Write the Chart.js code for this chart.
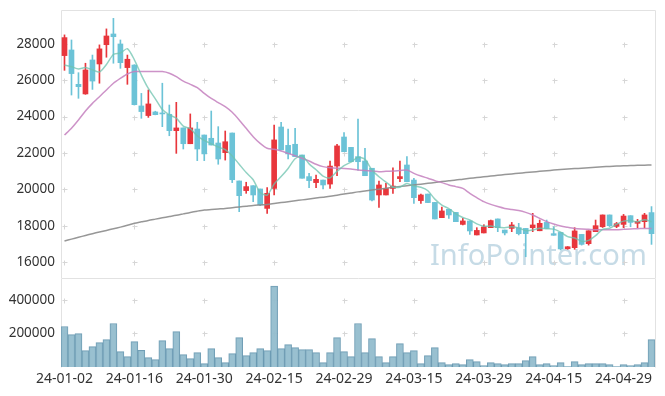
<!DOCTYPE html>
<html><head><meta charset="utf-8">
<script src="https://cdn.jsdelivr.net/npm/chart.js@4/dist/chart.umd.min.js"></script>
<style>
html,body{margin:0;padding:0;background:#fff;}
#wrap{position:relative;width:665px;height:396px;overflow:hidden;}
#c1{position:absolute;left:0;top:0;}
#c2{position:absolute;left:0;top:278px;}
</style></head><body>
<div id="wrap">
<canvas id="c1" width="665" height="278"></canvas>
<canvas id="c2" width="665" height="118"></canvas>
</div>
<script>
const labels = ["24-01-02","24-01-03","24-01-04","24-01-05","24-01-08","24-01-09","24-01-10","24-01-11","24-01-12","24-01-15",
"24-01-16","24-01-17","24-01-18","24-01-19","24-01-22","24-01-23","24-01-24","24-01-25","24-01-26","24-01-29",
"24-01-30","24-01-31","24-02-01","24-02-02","24-02-05","24-02-06","24-02-07","24-02-08","24-02-13","24-02-14",
"24-02-15","24-02-16","24-02-19","24-02-20","24-02-21","24-02-22","24-02-23","24-02-26","24-02-27","24-02-28",
"24-02-29","24-03-04","24-03-05","24-03-06","24-03-07","24-03-08","24-03-11","24-03-12","24-03-13","24-03-14",
"24-03-15","24-03-18","24-03-19","24-03-20","24-03-21","24-03-22","24-03-25","24-03-26","24-03-27","24-03-28",
"24-03-29","24-04-01","24-04-02","24-04-03","24-04-04","24-04-05","24-04-08","24-04-09","24-04-11","24-04-12",
"24-04-15","24-04-16","24-04-17","24-04-18","24-04-19","24-04-22","24-04-23","24-04-24","24-04-25","24-04-26",
"24-04-29","24-04-30","24-05-02","24-05-03","24-05-07"];

const openP = [27360,27670,25780,25250,27120,26900,27960,28550,28000,26700,
26840,24590,24060,24260,24200,24130,23230,23380,22510,23320,
22990,22810,22550,22020,23100,20460,19930,20200,20020,18950,
20050,23430,22420,22480,21890,20700,20370,20510,20290,21280,
22880,22310,21800,21560,21160,19690,19690,20050,20590,21340,
20510,19380,19740,19280,18440,18900,18730,18070,18260,17490,
17600,17890,18370,17760,17850,17890,17850,17890,17720,18180,
17560,17630,16730,16790,17520,17010,17670,17940,18590,17960,
18070,18550,18130,18220,18720];
const closeP = [28350,26370,25650,26570,25960,27730,28440,28400,26970,27160,
24660,24280,24700,24110,24150,23230,23380,22510,23380,22220,
21950,22440,21670,22620,20530,19650,20150,19690,19140,19780,
22720,22170,21950,21800,20610,20480,20550,20240,21280,22390,
22070,21520,21520,20750,19410,20240,20050,20180,20700,20420,
19540,19690,19270,18370,18810,18590,18220,18260,17710,17740,
17930,18280,17890,17600,18040,17560,17560,18040,18130,17850,
17470,16720,16840,17710,16970,17720,18000,18590,18000,18110,
18530,18180,18240,18590,17560];
const highP = [28500,28220,26420,26940,27390,27950,28830,29410,28220,27390,
26860,25280,25470,24300,25840,24640,24790,23380,24150,23690,
22990,24310,23450,23210,23100,20460,20390,20200,20020,20090,
23540,23690,23320,23360,21890,20880,20790,20510,21560,22480,
23120,22310,23870,22260,21160,20460,20330,21190,21560,21800,
20610,19740,19740,19280,19030,18900,18730,18400,18260,17890,
18050,18310,18370,17760,18180,18130,17850,18680,18310,18310,
17940,17630,16850,17890,17520,17720,18310,18590,18590,18180,
18620,18550,18350,18680,19050];
const lowP = [26550,25190,25010,25230,25500,25840,27270,26940,26660,25780,
24640,23910,23960,24100,23450,22950,21980,22220,22510,21580,
21580,22440,21380,21610,20370,18770,19780,19320,19100,18680,
19690,22170,21670,21800,20610,20090,20090,20020,20050,20750,
22070,21520,21060,20750,19360,19010,19690,19780,20420,20420,
19230,19230,19270,18370,18440,18400,18220,18040,17520,17490,
17600,17890,17670,17490,17670,17490,16290,17670,17720,17850,
17470,16660,16700,16700,16930,16930,17670,17900,17950,17890,
17890,17940,17890,17890,16970];

const ma5 = [26840,26750,26620,26700,26580,26455,26870,27420,27500,27740,
27130,26290,25550,24980,24390,24100,23920,23480,23340,22940,
22690,22500,22330,22180,21840,21380,20920,20530,19830,19680,
20290,20700,21150,21680,21850,21400,21080,20730,20630,20990,
21310,21500,21760,21650,21060,20690,20400,20130,20120,20320,
20180,20110,19920,19460,19130,18940,18650,18450,18320,18100,
17970,17980,17910,17890,17940,17870,17730,17760,17860,17830,
17810,17640,17400,17320,17140,17190,17450,17800,17860,18080,
18250,18280,18210,18330,18220];
const ma20 = [22990,23360,23820,24310,24730,25100,25470,25840,26110,26350,
26480,26480,26480,26480,26480,26390,26200,25960,25780,25600,
25280,25000,24770,24550,24240,23820,23360,22900,22530,22260,
22200,22110,21980,21850,21710,21560,21380,21250,21190,21160,
21150,21120,21060,21030,21010,20970,20990,21010,21030,21060,
20880,20730,20610,20480,20370,20240,20150,20050,19780,19540,
19320,19170,19050,18950,18890,18830,18730,18590,18400,18220,
18090,17980,17910,17850,17820,17800,17780,17780,17780,17780,
17800,17820,17830,17850,17850];
const ma60 = [17155,17260,17360,17460,17560,17650,17740,17830,17920,18020,
18130,18210,18290,18360,18430,18500,18570,18650,18730,18800,
18860,18890,18920,18950,18990,19030,19070,19110,19140,19170,
19220,19270,19320,19370,19420,19470,19520,19570,19620,19680,
19740,19800,19860,19910,19960,20010,20060,20110,20160,20200,
20240,20285,20330,20380,20425,20470,20510,20560,20605,20650,
20690,20730,20770,20810,20850,20885,20920,20955,20990,21025,
21060,21090,21115,21140,21165,21190,21215,21240,21260,21280,
21295,21310,21320,21330,21340];

const volume = [241000,193000,199000,97500,121000,145000,163000,259000,91500,61700,
151000,99500,55700,43800,157000,109000,211000,73600,49800,85600,
19900,109000,55700,25900,79600,175000,67700,85600,109000,97500,
482000,109000,133000,115000,103000,103000,85600,25900,85600,175000,
91500,61700,259000,85600,169000,61700,25900,61700,139000,85600,
97500,19900,67700,115000,25900,13900,19900,13900,43800,31800,
8000,25900,19900,13900,19900,19900,37800,61700,13900,19900,
8000,25900,2000,31800,13900,19900,19900,19900,13900,2000,
13900,8000,13900,25900,163000];

const priceTicks = [16000,18000,20000,22000,24000,26000,28000];
const volTicks = [200000,400000];

const UP = '#e8363c', DOWN = '#6cc3d7';
const candleColors = openP.map((o, i) => closeP[i] >= o ? UP : DOWN);
const FAMILY = '"Noto Sans", "DejaVu Sans", sans-serif';

const framePlugin = {
  id: 'frame',
  beforeDatasetsDraw(chart, args, opts) {
    const {ctx, chartArea: a, scales} = chart;
    ctx.save();
    if (opts.mark) {
      ctx.font = '31px "Noto Sans", sans-serif';
      const w = ctx.measureText(opts.mark).width;
      const size = 31 * 217 / w;
      ctx.font = size.toFixed(2) + 'px "Noto Sans", sans-serif';
      ctx.fillStyle = 'rgba(160,195,214,0.6)';
      ctx.textBaseline = 'alphabetic';
      ctx.textAlign = 'left';
      ctx.fillText(opts.mark, 430, 265);
    }
    ctx.strokeStyle = '#d6d6d6';
    ctx.lineWidth = 1;
    ctx.beginPath();
    const xs = scales.x, ys = scales.y;
    for (let i = 0; i < labels.length; i += 10) {
      const px = Math.round(xs.getPixelForValue(i)) + 0.5;
      for (const t of ys.ticks) {
        const py = Math.round(ys.getPixelForValue(t.value)) + 0.5;
        ctx.moveTo(px - 2, py); ctx.lineTo(px + 3, py);
        ctx.moveTo(px, py - 2); ctx.lineTo(px, py + 3);
      }
    }
    ctx.stroke();
    ctx.strokeStyle = '#e2e2e2';
    const l = Math.round(a.left) + 0.5, r = Math.round(a.right) + 0.5,
          t = Math.round(a.top) + 0.5, b = Math.round(a.bottom) + 0.5;
    ctx.beginPath();
    ctx.moveTo(l, b); ctx.lineTo(l, t); ctx.lineTo(r, t); ctx.lineTo(r, b);
    ctx.stroke();
    ctx.restore();
  }
};

function yAxis(min, max, keep) {
  return {
    position: 'left', min, max,
    afterBuildTicks(s) { s.ticks = keep.map(v => ({value: v})); },
    ticks: {color: '#333', font: {family: FAMILY, size: 13.5}, padding: 6, autoSkip: false,
      callback(v) { return String(v); }},
    afterFit(s) { s.width = 61; s.paddingTop = 0; s.paddingBottom = 0; },
    grid: {display: false, drawTicks: false},
    border: {display: false}
  };
}

const lineDs = (data, color) => ({
  type: 'line', data, borderColor: color, borderWidth: 1.5,
  pointRadius: 0, tension: 0.25, fill: false, order: 0
});

new Chart(document.getElementById('c1'), {
  type: 'bar',
  data: {
    labels,
    datasets: [
      lineDs(ma5, 'rgba(110,195,175,0.75)'),
      lineDs(ma20, 'rgba(196,128,190,0.85)'),
      lineDs(ma60, 'rgba(140,140,140,0.9)'),
      {data: openP.map((o, i) => [o, closeP[i]]), backgroundColor: candleColors,
       barThickness: 5, minBarLength: 1, grouped: false, order: 1},
      {data: lowP.map((l, i) => [l, highP[i]]), backgroundColor: candleColors,
       barThickness: 1, grouped: false, order: 2}
    ]
  },
  options: {
    responsive: false, animation: false, events: [],
    layout: {padding: {left: 0, right: 10, top: 10, bottom: 0}},
    plugins: {legend: {display: false}, tooltip: {enabled: false}, frame: {mark: 'InfoPointer.com'}},
    scales: {
      x: {type: 'category', offset: true, display: false},
      y: yAxis(15120, 29870, priceTicks)
    }
  },
  plugins: [framePlugin]
});

new Chart(document.getElementById('c2'), {
  type: 'bar',
  data: {
    labels,
    datasets: [{
      data: volume, backgroundColor: 'rgba(148,189,206,0.95)', borderColor: 'rgba(98,148,173,0.9)',
      borderWidth: 1, barPercentage: 1, categoryPercentage: 1
    }]
  },
  options: {
    responsive: false, animation: false, events: [],
    layout: {padding: {left: 0, right: 10, top: 0, bottom: 0}},
    plugins: {legend: {display: false}, tooltip: {enabled: false}, frame: {}},
    scales: {
      x: {
        type: 'category', offset: true,
        ticks: {autoSkip: false, maxRotation: 0, color: '#333', font: {family: FAMILY, size: 14}, padding: 4,
          callback(v, i) { return i % 10 === 0 ? labels[i] : null; }},
        afterFit(s) { s.height = 29; s.paddingLeft = 0; s.paddingRight = 0; },
        grid: {display: false, drawTicks: false},
        border: {display: false}
      },
      y: yAxis(0, 530000, volTicks)
    }
  },
  plugins: [framePlugin]
});
</script>
</body></html>
